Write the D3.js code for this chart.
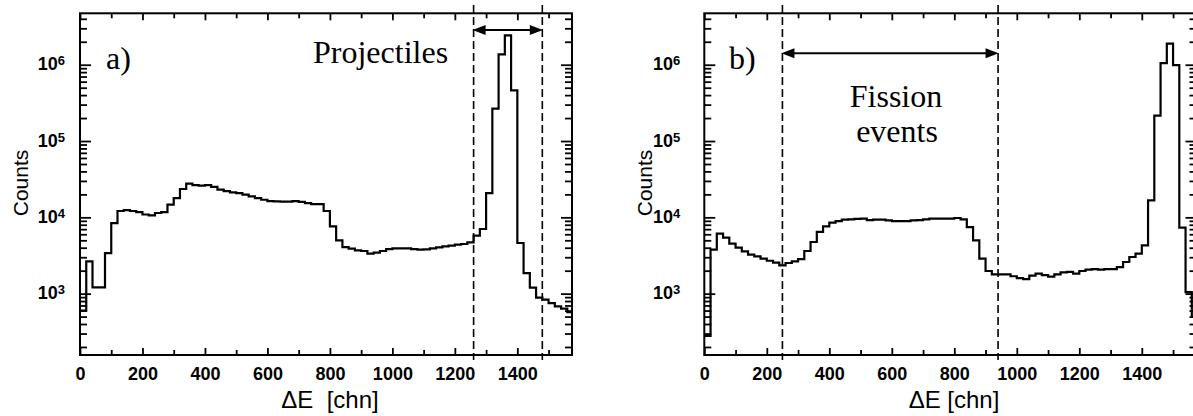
<!DOCTYPE html>
<html>
<head>
<meta charset="utf-8">
<script src="https://cdn.jsdelivr.net/npm/d3@7"></script>
<style>
body { margin: 0; background: #fff; }
svg { display: block; }
.tick text { font-family: "Liberation Sans Narrow", "Liberation Sans", Arial, sans-serif; font-weight: bold; font-size: 18px; fill: #000; }
.tick line { stroke: #000; stroke-width: 1.8; }
.axis-title { font-family: "Liberation Sans", Arial, sans-serif; fill: #000; }
.note { font-family: "Liberation Serif", "Times New Roman", serif; font-size: 32px; fill: #000; }
</style>
</head>
<body>
<svg id="chart"></svg>
<script>
var binWidth = 20

// panel a) counts per 20-channel bin, starting at channel 0
var countsA = [600, 2650, 1210, 1210, 3400, 8400, 12100, 12400, 12100, 11700,
	10900, 10600, 11400, 11700, 14700, 17900, 23500, 27700, 26500, 26000,
	26500, 25000, 23100, 22100, 21300, 20800, 19800, 18800, 17900, 17000,
	16300, 16200, 16100, 16100, 16300, 15900, 15400, 14900, 14900, 12100,
	7600, 5000, 4080, 3890, 3700, 3620, 3340, 3450, 3620, 3840,
	3930, 3930, 3930, 3840, 3770, 3800, 3930, 4040, 4160, 4250,
	4380, 4470, 4700, 5760, 7030, 20800, 266000, 1370000, 2430000, 461000,
	4610, 1860, 1200, 886, 835, 753, 682, 636, 574]

// panel b) counts per 20-channel bin
var countsB = [280, 3770, 6110, 5420, 4520, 4010, 3590, 3240, 3080, 2870,
	2700, 2550, 2350, 2520, 2650, 2840, 3620, 4750, 6430, 7620,
	8500, 8940, 9330, 9400, 9520, 9600, 9220, 9330, 9330, 9140,
	8940, 8940, 8940, 9140, 9220, 9400, 9600, 9600, 9590, 9600,
	9800, 9400, 7450, 5000, 2870, 1980, 1790, 1790, 1790, 1690,
	1600, 1550, 1720, 1830, 1750, 1670, 1790, 1900, 1930, 1830,
	1980, 2060, 2100, 2060, 2100, 2100, 2230, 2600, 3020, 3340,
	4290, 16700, 215000, 1050000, 1890000, 990000, 7330, 1050, 494]

var cutsA = [1260, 1480]
var cutsB = [250, 940]

var xMajorTicks = [0, 200, 400, 600, 800, 1000, 1200, 1400]
var xMinorTicks = [100, 300, 500, 700, 900, 1100, 1300, 1500]
var yDecades = [1e3, 1e4, 1e5, 1e6]
var xDomain = [0, 1575]
var yDomain = [157, 4.72e6]

var yMinorTicks = []
for (var e = 2; e <= 6; e++) {
	for (var m = 2; m <= 9; m++) {
		var v = m * Math.pow(10, e)
		if (v > yDomain[0] && v < yDomain[1]) yMinorTicks.push(v)
	}
}

var width = 1193
var height = 416
var plotTop = 13.3
var plotBottom = 355

var svg = d3.select("#chart").attr("width", width).attr("height", height)

var yScale = d3.scaleLog().domain(yDomain).range([plotBottom, plotTop])

var panels = [
	{ id: "a", counts: countsA, cuts: cutsA, left: 80, right: 572, labelGap: 15,
		countsX: 28, xTitleX: 330, xTitle: "\u0394E\u00a0\u00a0[chn]", arrowY: 30 },
	{ id: "b", counts: countsB, cuts: cutsB, left: 704.3, right: 1196.5, labelGap: 24,
		countsX: 652, xTitleX: 954, xTitle: "\u0394E [chn]", arrowY: 53.3 }
]

panels.forEach(function (p) {
	var x = d3.scaleLinear().domain(xDomain).range([p.left, p.right])
	var g = svg.append("g")

	g.append("clipPath").attr("id", "clip-" + p.id)
		.append("rect")
		.attr("x", p.left).attr("y", plotTop)
		.attr("width", p.right - p.left).attr("height", plotBottom - plotTop)

	// ticks on all four sides, pointing inwards
	function addAxis(axis, tx, ty) {
		var a = g.append("g").attr("transform", "translate(" + tx + "," + ty + ")").call(axis)
		a.select(".domain").remove()
		return a
	}
	addAxis(d3.axisBottom(x).tickValues(xMajorTicks).tickSize(-7).tickPadding(12).tickFormat(d3.format("d")), 0, plotBottom)
	addAxis(d3.axisBottom(x).tickValues(xMinorTicks).tickSize(-5).tickFormat(""), 0, plotBottom)
	addAxis(d3.axisTop(x).tickValues(xMajorTicks).tickSize(-7).tickFormat(""), 0, plotTop)
	addAxis(d3.axisTop(x).tickValues(xMinorTicks).tickSize(-5).tickFormat(""), 0, plotTop)

	var gy = addAxis(d3.axisLeft(yScale).tickValues(yDecades).tickSize(-11).tickPadding(p.labelGap), p.left, 0)
	gy.selectAll(".tick text").each(function (d) {
		var t = d3.select(this).text(null).attr("dy", "0.28em")
		t.append("tspan").text("10")
		t.append("tspan").attr("dy", "-0.38em").style("font-size", "13px").text(Math.round(Math.log10(d)))
	})
	addAxis(d3.axisLeft(yScale).tickValues(yMinorTicks).tickSize(-7).tickFormat(""), p.left, 0)
	addAxis(d3.axisRight(yScale).tickValues(yDecades).tickSize(-11).tickFormat(""), p.right, 0)
	addAxis(d3.axisRight(yScale).tickValues(yMinorTicks).tickSize(-7).tickFormat(""), p.right, 0)

	g.append("rect")
		.attr("x", p.left).attr("y", plotTop)
		.attr("width", p.right - p.left).attr("height", plotBottom - plotTop)
		.attr("fill", "none").attr("stroke", "#000").attr("stroke-width", 2)

	// histogram
	var pts = p.counts.map(function (c, i) { return [i * binWidth, c] })
	pts.push([p.counts.length * binWidth, p.counts[p.counts.length - 1]])
	var line = d3.line()
		.x(function (d) { return x(d[0]) })
		.y(function (d) { return yScale(d[1]) })
		.curve(d3.curveStepAfter)
	g.append("path")
		.attr("d", line(pts))
		.attr("clip-path", "url(#clip-" + p.id + ")")
		.attr("fill", "none").attr("stroke", "#000").attr("stroke-width", 2.2)

	// cut lines and arrow
	g.selectAll(".cut").data(p.cuts).enter().append("line")
		.attr("x1", function (d) { return x(d) }).attr("x2", function (d) { return x(d) })
		.attr("y1", 5).attr("y2", 360)
		.attr("stroke", "#000").attr("stroke-width", 1.6).attr("stroke-dasharray", "8,4")

	var ax0 = x(p.cuts[0]), ax1 = x(p.cuts[1])
	g.append("line")
		.attr("x1", ax0 + 6).attr("x2", ax1 - 6).attr("y1", p.arrowY).attr("y2", p.arrowY)
		.attr("stroke", "#000").attr("stroke-width", 2)
	g.append("path")
		.attr("d", "M" + (ax0 - 1) + "," + p.arrowY + "L" + (ax0 + 12) + "," + (p.arrowY - 5) + "L" + (ax0 + 12) + "," + (p.arrowY + 5) + "Z")
		.attr("fill", "#000")
	g.append("path")
		.attr("d", "M" + (ax1 + 0.5) + "," + p.arrowY + "L" + (ax1 - 12.5) + "," + (p.arrowY - 5) + "L" + (ax1 - 12.5) + "," + (p.arrowY + 5) + "Z")
		.attr("fill", "#000")

	// axis titles
	g.append("text").attr("class", "axis-title")
		.attr("transform", "translate(" + p.countsX + ",183) rotate(-90)")
		.attr("text-anchor", "middle").style("font-size", "21px")
		.text("Counts")
	g.append("text").attr("class", "axis-title")
		.attr("x", p.xTitleX).attr("y", 408)
		.attr("text-anchor", "middle").style("font-size", "24px")
		.text(p.xTitle)
})

// annotations
svg.append("text").attr("class", "note").attr("x", 106).attr("y", 69).text("a)")
svg.append("text").attr("class", "note").attr("x", 313).attr("y", 63).text("Projectiles")
svg.append("text").attr("class", "note").attr("x", 729).attr("y", 69).text("b)")
svg.append("text").attr("class", "note").attr("x", 896).attr("y", 107).attr("text-anchor", "middle").text("Fission")
svg.append("text").attr("class", "note").attr("x", 897).attr("y", 142).attr("text-anchor", "middle").text("events")
</script>
</body>
</html>
